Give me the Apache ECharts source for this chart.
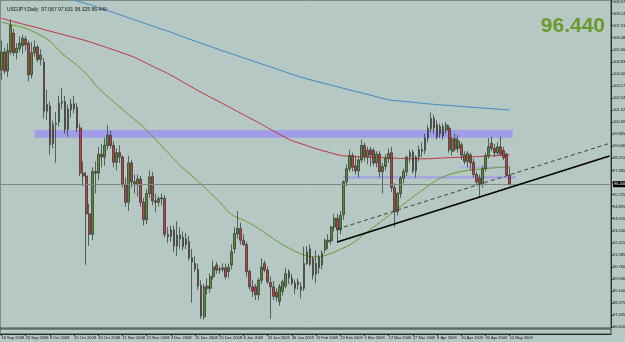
<!DOCTYPE html>
<html><head><meta charset="utf-8">
<script src="https://cdn.jsdelivr.net/npm/echarts@6/dist/echarts.min.js"></script>
<style>html,body{margin:0;padding:0;background:#b5c8c4}#c{width:625px;height:342px}</style>
</head><body><div id="c"></div>
<script>
// ---- data ----
const dateLabels = ['16 Sep 2008','26 Sep 2008','8 Oct 2008','20 Oct 2008','30 Oct 2008','11 Nov 2008','21 Nov 2008','3 Dec 2008','15 Dec 2008','25 Dec 2008','8 Jan 2009','20 Jan 2009','30 Jan 2009','11 Feb 2009','23 Feb 2009','5 Mar 2009','17 Mar 2009','27 Mar 2009','8 Apr 2009','20 Apr 2009','30 Apr 2009','12 May 2009'];
const opens = [104.30,105.50,104.20,105.50,106.80,105.45,105.75,105.95,106.40,106.10,103.95,105.45,105.85,105.00,104.80,101.45,101.80,99.20,100.55,100.70,
102.00,102.10,100.20,101.55,101.95,101.70,100.30,97.20,97.00,94.40,93.00,97.30,97.20,98.50,98.30,99.10,99.80,99.10,97.95,98.60,
98.30,96.40,95.20,97.90,96.60,96.40,96.80,95.20,94.00,95.80,96.95,95.30,95.20,95.45,95.47,93.00,92.85,93.30,92.20,92.95,
92.80,92.70,92.50,91.40,91.00,90.60,89.50,87.35,89.45,89.30,90.10,90.90,90.55,90.60,90.70,90.45,90.90,92.00,93.05,93.40,
92.60,92.30,90.45,89.40,89.40,88.85,89.85,91.00,90.55,89.70,89.40,89.05,88.40,89.10,89.45,90.00,90.00,89.65,89.75,89.40,
89.30,91.00,92.00,91.35,90.30,90.70,90.90,91.95,92.60,92.55,93.50,94.10,93.30,94.35,96.60,97.50,98.40,97.70,97.35,98.10,
99.10,98.30,98.80,98.75,97.90,98.50,97.30,97.65,98.20,98.60,96.20,94.55,95.80,96.85,97.30,98.30,98.65,97.35,98.30,98.80,
98.75,99.60,100.25,100.95,100.50,99.90,100.40,100.15,100.30,98.70,99.55,98.90,99.15,98.45,98.00,98.45,97.95,97.10,96.85,96.45,
97.50,98.40,99.25,98.90,98.60,99.00,98.75,98.50,97.067];
const highs = [106.30,105.80,106.10,107.75,107.10,106.10,106.60,106.70,106.60,106.30,106.20,106.30,106.00,105.70,105.10,102.90,102.10,100.80,101.40,102.50,
103.05,102.50,101.90,102.30,102.50,102.00,100.60,98.00,97.30,95.10,97.60,98.00,99.00,99.20,99.60,100.50,100.10,99.40,98.90,99.10,
98.40,96.90,98.40,98.10,97.10,97.10,97.00,95.50,96.10,97.40,97.30,95.80,95.60,95.80,95.70,93.50,93.60,93.60,93.90,93.50,
93.20,93.10,92.90,92.00,91.50,91.00,89.85,89.60,90.00,90.30,91.20,91.10,90.80,91.00,91.00,91.00,92.30,93.50,94.60,93.80,
93.00,92.50,90.60,89.90,89.60,90.00,91.35,91.20,90.80,90.10,89.80,89.30,89.60,89.90,90.70,90.60,90.30,89.90,90.00,89.70,
92.15,92.20,92.30,91.50,91.90,91.60,91.90,92.70,93.00,93.60,94.40,94.40,94.60,96.70,97.80,98.80,98.60,98.40,98.30,99.50,
99.30,99.00,99.00,98.95,98.70,98.70,97.90,98.50,98.90,99.00,96.50,95.90,97.00,97.50,98.40,98.80,98.80,98.40,99.10,99.30,
99.90,100.50,101.35,101.20,100.80,100.60,100.60,100.70,100.50,99.70,99.90,99.80,99.30,98.70,98.70,98.60,98.20,97.30,97.10,97.70,
98.60,99.60,99.70,99.20,99.30,99.70,99.00,98.60,97.631];
const lows = [103.60,104.00,103.80,105.30,105.20,105.00,105.50,105.40,105.60,103.50,103.70,105.20,104.80,104.60,100.95,100.85,98.45,98.90,97.90,100.40,
101.60,99.90,99.70,101.00,101.30,100.00,97.00,96.30,90.90,92.20,92.60,95.80,96.70,97.60,97.70,98.80,98.90,97.60,97.40,97.90,
96.20,94.90,94.60,96.20,95.80,95.60,94.90,93.60,93.70,95.50,95.00,94.50,94.90,95.00,92.80,92.40,92.50,91.80,91.50,92.00,
91.90,92.00,91.20,88.30,90.40,89.20,87.20,87.15,88.90,89.00,89.90,90.30,90.30,90.40,89.90,90.00,90.60,91.70,92.70,92.30,
92.20,90.10,89.20,88.70,88.50,88.50,89.60,90.40,89.60,87.20,88.50,88.40,88.10,88.80,89.30,89.60,89.50,88.90,89.20,88.60,
89.10,90.90,90.80,89.90,89.65,90.30,90.60,91.70,92.00,92.30,93.20,92.40,93.00,94.00,96.30,97.30,97.30,97.10,96.90,97.90,
98.00,97.80,97.65,97.70,97.60,96.90,95.80,97.40,97.90,95.90,93.50,94.30,95.50,96.50,97.00,97.90,97.20,96.90,98.00,98.30,
98.50,99.30,100.00,99.90,99.50,99.60,99.50,99.90,98.60,98.40,98.70,98.60,98.10,97.80,97.60,97.40,96.90,96.35,95.60,96.20,
97.30,98.20,98.70,98.30,98.40,98.40,98.10,97.00,96.325];
const closes = [105.50,104.20,105.60,107.35,105.45,105.75,106.10,106.45,106.00,103.95,105.45,105.85,105.00,105.30,101.45,101.90,99.15,100.55,100.60,102.00,
102.10,100.20,101.60,101.95,101.60,100.30,97.20,97.00,94.40,93.00,97.30,97.20,98.50,98.30,99.10,99.80,99.10,97.95,98.60,98.30,
96.40,95.20,97.90,96.60,96.40,96.80,95.20,94.00,95.80,96.95,95.30,95.20,95.45,95.50,93.00,92.85,93.30,92.20,92.95,92.70,
92.15,92.30,91.40,91.10,90.60,89.45,87.40,89.40,89.30,90.10,90.75,90.55,90.60,90.70,90.10,90.75,91.80,93.05,93.40,92.60,
92.30,90.45,89.40,89.10,88.85,89.85,90.75,90.55,89.75,89.40,88.75,88.70,89.40,89.75,90.30,90.45,89.65,89.30,89.55,89.20,
91.00,91.80,90.95,90.20,91.00,91.45,91.70,92.60,92.50,93.50,94.10,93.30,94.30,96.60,97.50,98.40,97.60,97.35,98.10,99.10,
98.35,98.75,98.45,97.90,98.50,97.30,97.65,98.20,98.55,96.20,94.55,95.80,96.85,97.30,98.30,98.60,97.35,98.30,98.80,98.70,
99.60,100.25,100.95,100.30,99.70,100.40,99.75,100.50,98.80,99.55,98.85,99.40,98.45,98.00,98.55,97.90,97.10,96.60,96.50,97.50,
98.40,99.00,98.90,98.60,99.00,98.50,98.25,97.10,96.44];
// moving averages, read every 4th bar
const blueIdx = [20,24,28,32,36,40,44,48,52,56,60,64,68,72,76,80,84,88,92,96,100,104,108,112,116,120,124,128,132,136,140,144,148,152,156,160,164,168];
const blueMA = [109.35,109.07,108.83,108.56,108.28,108.0,107.71,107.43,107.14,106.86,106.55,106.25,105.96,105.67,105.39,105.11,104.83,104.55,104.27,103.98,103.72,103.5,103.29,103.07,102.86,102.65,102.44,102.23,102.14,102.06,101.97,101.9,101.84,101.78,101.71,101.65,101.59,101.53];
const maIdx = [0,4,8,12,16,20,24,28,32,36,40,44,48,52,56,60,64,68,72,76,80,84,88,92,96,100,104,108,112,116,120,124,128,132,136,140,144,148,152,156,160,164,168];
const redMA = [107.82,107.59,107.37,107.16,106.94,106.72,106.5,106.28,106.01,105.73,105.44,105.14,104.73,104.33,103.92,103.44,102.97,102.52,102.09,101.65,101.21,100.77,100.31,99.85,99.43,99.15,98.87,98.64,98.42,98.35,98.31,98.28,98.24,98.21,98.18,98.18,98.22,98.26,98.29,98.32,98.36,98.4,98.44];
const greenMA = [107.56,107.35,107.13,106.75,106.25,105.4,104.76,104.01,103.04,102.29,101.58,100.87,100.15,99.26,98.38,97.55,96.83,96.04,95.24,94.37,93.98,93.53,92.97,92.41,91.96,91.58,91.45,91.62,91.97,92.39,93.02,93.65,94.28,94.92,95.56,96.15,96.73,97.1,97.31,97.43,97.51,97.58,97.65];
const yTickValues = [108.970,108.140,107.315,106.485,105.660,104.830,104.005,103.175,102.345,101.520,100.690,99.865,99.040,98.210,97.385,96.555,95.725,94.895,94.070,93.240,92.415,91.585,90.760,89.930,89.100,88.275,87.445,86.620];
const hiddenTick = 96.555;
const lastPrice = 96.44;
const headerText = 'USDJPY,Daily  97.067 97.631 96.325 96.440';
const solidTrend = [[111, 92.48], [201, 98.37]];
const dashTrend = [[111, 93.36], [201, 99.24]];
const zoneMain = [[11, 100.16], [169, 99.63]];
const zoneLow = [[113, 96.99], [170, 96.83]];
const zoneMid = [[151, 97.67], [166, 97.53]];
const SLOTS = 202;
const Y_MIN = 86.577, Y_MAX = 109.073;

// ---- chart ----
const cats = Array.from({length: SLOTS}, (_, i) => String(i));
const labelShown = idx => idx % 8 === 0 && idx / 8 < dateLabels.length;
const candles = opens.map((o, i) => [o, closes[i], lows[i], highs[i]]);
const pairs = (idx, v) => idx.map((x, k) => [x, v[k]]);
const FONT = 'Liberation Sans';
const chart = echarts.init(document.getElementById('c'), null, {renderer: 'canvas'});
chart.setOption({
  animation: false,
  backgroundColor: '#b5c8c4',
  title: [
    {text: '96.440', right: 15, top: 11, textStyle: {fontSize: 21, fontWeight: 'bold', color: '#6b9a2c', fontFamily: FONT}},
    {text: headerText, left: 2, top: 2, textStyle: {fontSize: 5, fontWeight: 'normal', color: '#111', fontFamily: FONT}}
  ],
  grid: [
    {left: 0, right: 14, top: 0, height: 328, show: true, borderColor: '#46514f', borderWidth: 1, backgroundColor: 'transparent', outerBoundsMode: 'none', containLabel: false},
    {left: 0, right: 14, top: 329, height: 5, show: true, borderColor: '#3a4442', borderWidth: 1, backgroundColor: 'transparent', outerBoundsMode: 'none', containLabel: false}
  ],
  xAxis: [
    {type: 'category', data: cats, gridIndex: 0, boundaryGap: true, axisLine: {show: false}, axisTick: {show: false}, axisLabel: {show: false}, splitLine: {show: false}},
    {type: 'category', data: cats, gridIndex: 1, boundaryGap: true,
      axisLine: {show: true, lineStyle: {color: '#2b2b2b'}},
      axisTick: {show: true, interval: labelShown, alignWithLabel: true, length: 2, lineStyle: {color: '#2b2b2b'}},
      axisLabel: {interval: labelShown, showMinLabel: true, showMaxLabel: true, hideOverlap: false,
        formatter: (v, idx) => labelShown(idx) ? dateLabels[idx / 8] : '', fontSize: 4, color: '#111', margin: 2, align: 'left', fontFamily: FONT},
      splitLine: {show: false}}
  ],
  yAxis: [
    {type: 'value', gridIndex: 0, position: 'right', min: Y_MIN, max: Y_MAX, scale: true,
      axisLine: {show: true, lineStyle: {color: '#2b2b2b'}},
      axisTick: {show: true, length: 2, customValues: yTickValues, lineStyle: {color: '#2b2b2b'}},
      axisLabel: {customValues: yTickValues.filter(v => v !== hiddenTick), formatter: v => v.toFixed(3), fontSize: 4, color: '#111', margin: 2, fontFamily: FONT, hideOverlap: false},
      splitLine: {show: false}},
    {type: 'value', gridIndex: 1, show: false, min: 0, max: 1}
  ],
  series: [
    {type: 'line', name: 'blue', data: pairs(blueIdx, blueMA), smooth: 0.4, symbol: 'none', clip: true, lineStyle: {color: '#3f86c5', width: 1}, z: 3},
    {type: 'line', name: 'red', data: pairs(maIdx, redMA), smooth: 0.4, symbol: 'none', clip: true, lineStyle: {color: '#c2333a', width: 1}, z: 3},
    {type: 'line', name: 'green', data: pairs(maIdx, greenMA), smooth: 0.4, symbol: 'none', clip: true, lineStyle: {color: '#6b9a2c', width: 1}, z: 3},
    {type: 'candlestick', data: candles, barWidth: 2.2, z: 4,
      itemStyle: {color: '#5d8c2d', color0: '#c63c3c', borderColor: '#28322e', borderColor0: '#28322e', borderWidth: 0.7},
      markArea: {silent: true, data: [
        [{xAxis: zoneMain[0][0], yAxis: zoneMain[0][1], itemStyle: {color: '#a29de8', opacity: 1}}, {xAxis: zoneMain[1][0], yAxis: zoneMain[1][1]}],
        [{xAxis: zoneLow[0][0], yAxis: zoneLow[0][1], itemStyle: {color: '#a3a0e2', opacity: 1}}, {xAxis: zoneLow[1][0], yAxis: zoneLow[1][1]}],
        [{xAxis: zoneMid[0][0], yAxis: zoneMid[0][1], itemStyle: {color: '#b0aee4', opacity: 1}}, {xAxis: zoneMid[1][0], yAxis: zoneMid[1][1]}]
      ]},
      markLine: {silent: true, symbol: ['none', 'none'], animation: false, data: [
        {yAxis: lastPrice, lineStyle: {color: '#7b8987', width: 1, type: 'solid'},
          label: {show: true, position: 'end', formatter: () => lastPrice.toFixed(3), backgroundColor: '#000', color: '#fff', fontSize: 4, padding: [1, 1, 1, 1], distance: 2, fontFamily: FONT}},
        [{coord: solidTrend[0], lineStyle: {color: '#000', width: 1.6, type: 'solid'}, label: {show: false}}, {coord: solidTrend[1]}],
        [{coord: dashTrend[0], lineStyle: {color: '#3a3f3e', width: 1, type: [4, 3]}, label: {show: false}}, {coord: dashTrend[1]}]
      ]}
    }
  ]
});
</script></body></html>
